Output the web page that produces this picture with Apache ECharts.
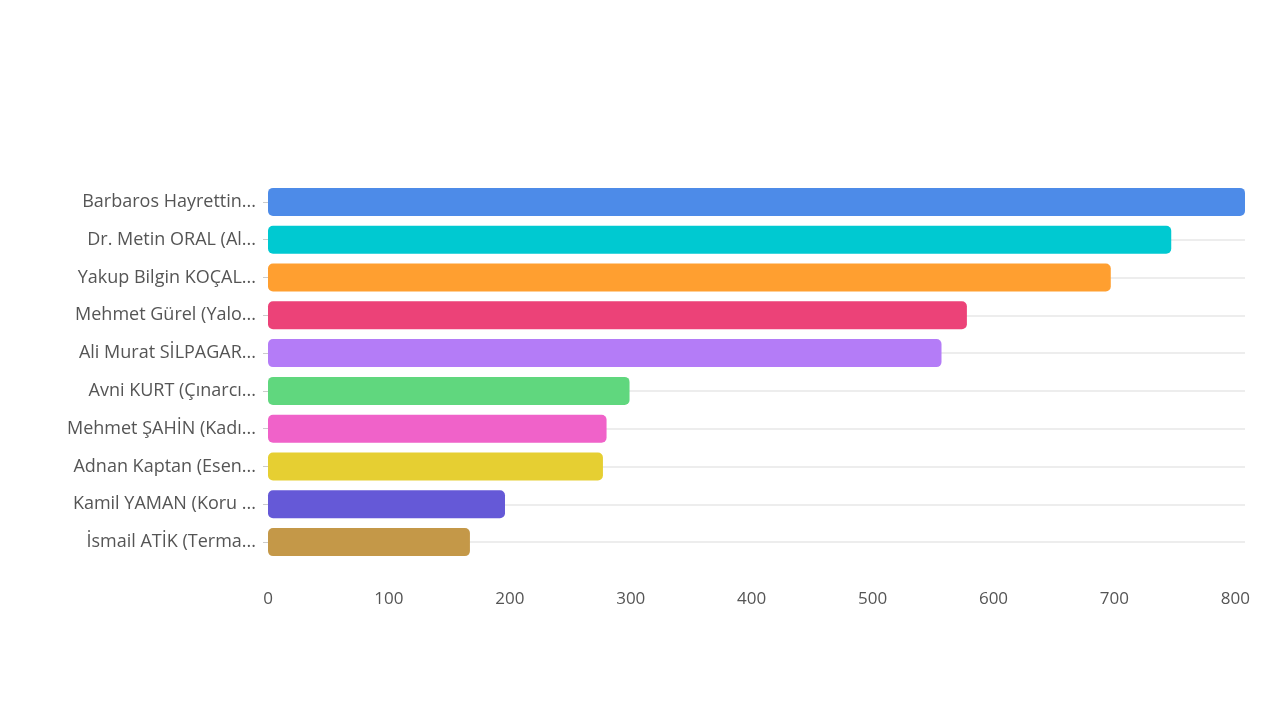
<!DOCTYPE html>
<html>
<head>
<meta charset="utf-8">
<script src="https://cdn.jsdelivr.net/npm/echarts@6/dist/echarts.min.js"></script>
<style>
  html, body { margin: 0; padding: 0; background: #fff; }
  #chart { width: 1280px; height: 720px; }
</style>
</head>
<body>
<div id="chart"></div>
<script>
const categories = [
    'Barbaros Hayrettin...',
    'Dr. Metin ORAL (Al...',
    'Yakup Bilgin KOÇAL...',
    'Mehmet Gürel (Yalo...',
    'Ali Murat SİLPAGAR...',
    'Avni KURT (Çınarcı...',
    'Mehmet ŞAHİN (Kadı...',
    'Adnan Kaptan (Esen...',
    'Kamil YAMAN (Koru ...',
    'İsmail ATİK (Terma...'
];
const values = [808, 747, 697, 578, 557, 299, 280, 277, 196, 167];
const colors = ['#4d8be8', '#00c9d1', '#ff9f30', '#ec4278', '#b47cf7',
                '#60d77e', '#f062c9', '#e6cf32', '#6559d7', '#c49848'];

document.addEventListener("DOMContentLoaded", function() {
    const myChart = echarts.init(document.getElementById('chart'));

    const option = {
        animation: false,
        textStyle: { fontFamily: '"Open Sans", sans-serif' },
        grid: { left: 268, right: 35, top: 183, bottom: 159 },
        xAxis: {
            type: 'value',
            min: 0,
            max: 'dataMax',
            interval: 100,
            axisLine: { show: false },
            axisTick: { show: false },
            splitLine: { show: false },
            axisLabel: { color: '#555', fontSize: 17, margin: 30, showMaxLabel: false }
        },
        yAxis: {
            type: 'category',
            inverse: true,
            data: categories,
            axisLine: { show: false },
            axisTick: { show: true, alignWithLabel: true, length: 5, lineStyle: { color: '#ccc' } },
            splitLine: { show: true, alignWithLabel: true, lineStyle: { color: '#ededed', width: 2 } },
            axisLabel: { color: '#555', fontSize: 18, margin: 12, padding: [3, 0, 0, 0] }
        },
        series: [{
            type: 'bar',
            barWidth: 28,
            data: values.map((v, i) => ({
                value: v,
                itemStyle: { color: colors[i], borderRadius: 5 }
            }))
        }]
    };

    myChart.setOption(option);
    window.addEventListener('resize', () => myChart.resize());
});
</script>
</body>
</html>
